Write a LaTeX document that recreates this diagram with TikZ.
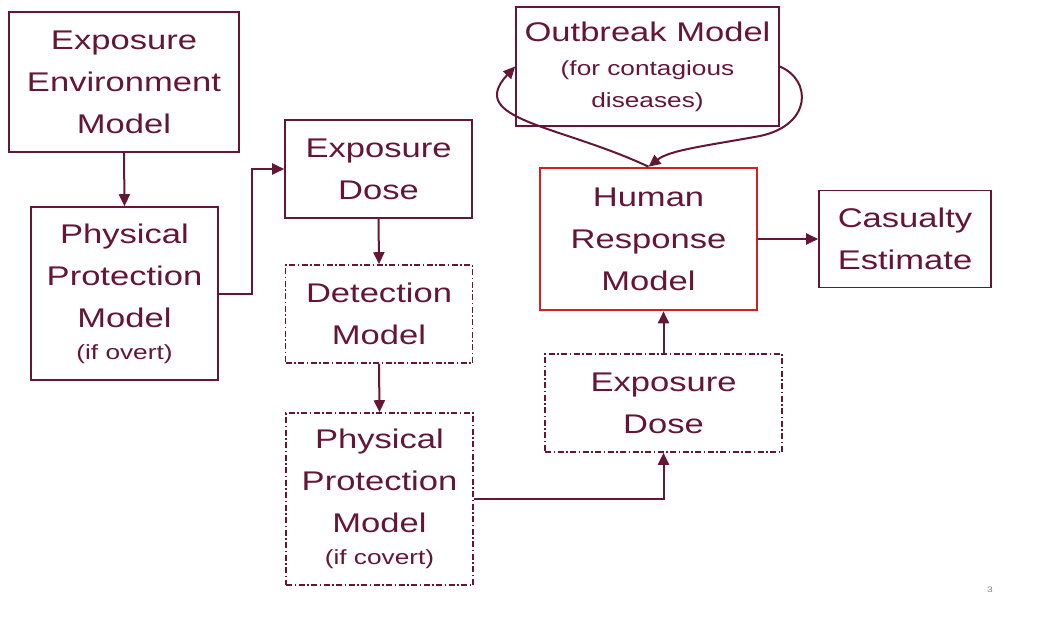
\documentclass[tikz,border=0pt]{standalone}
\usepackage{fontspec}
\setmainfont{Liberation Sans}[FakeStretch=1.28]
\usetikzlibrary{arrows.meta}
\definecolor{maroon}{RGB}{100,22,52}
\definecolor{hred}{RGB}{212,32,32}
\tikzset{
  box/.style={draw=maroon, line width=1.6pt, inner sep=0pt, align=center,
    text=maroon, font=\fontsize{27}{42}\selectfont},
  dbox/.style={box, dash pattern=on 6pt off 2.5pt on 1.5pt off 2.5pt},
  arr/.style={draw=maroon, line width=2pt, -{Triangle[length=12pt,width=11pt]}},
}
\newcommand{\sm}[1]{{\fontsize{20.5}{24}\selectfont #1}}
\begin{document}
\begin{tikzpicture}[x=1pt,y=-1pt]
\useasboundingbox (0,0) rectangle (1048,621);
\node[box, minimum width=230pt, minimum height=140pt] (env) at (124,82) {Exposure\\Environment\\Model};
\node[box, minimum width=187pt, minimum height=173pt] (pp1) at (124.5,293.5) {Physical\\Protection\\Model\\[-10pt]\sm{(if overt)}};
\node[box, minimum width=187pt, minimum height=98pt] (ed1) at (378.5,169) {Exposure\\Dose};
\node[dbox, minimum width=187pt, minimum height=98pt] (det) at (379,314) {Detection\\Model};
\node[dbox, minimum width=187pt, minimum height=172pt] (pp2) at (379.5,499) {Physical\\Protection\\Model\\[-10pt]\sm{(if covert)}};
\node[dbox, minimum width=237pt, minimum height=98pt] (ed2) at (663.5,403) {Exposure\\Dose};
\node[box, draw=hred, line width=2.6pt, minimum width=217pt, minimum height=142pt] (hrm) at (648.5,239) {Human\\Response\\Model};
\node[box, minimum width=172pt, minimum height=97pt] (cas) at (905,239) {Casualty\\Estimate};
\node[box, minimum width=263pt, minimum height=119pt] (out) at (647.5,66.5) {Outbreak Model\\[-8pt]\sm{(for contagious}\\[-10pt]\sm{diseases)}};
\node[text=gray, font=\fontsize{8}{10}\selectfont] (pg) at (990,590) {3};

\draw[arr] (env.south) -- (pp1.north);
\draw[arr] (pp1.east) -- ++(33,0) |- (ed1.west);
\draw[arr] (ed1.south) -- (det.north);
\draw[arr] (det.south) -- (pp2.north);
\draw[arr] (pp2.east) -| (ed2.south);
\draw[arr] (ed2.north) -- (ed2.north |- hrm.south);
\draw[arr] (hrm.east) -- (cas.west);
\draw[arr] (hrm.north) .. controls (560,125) and (465,120) .. (out.west);
\draw[arr] (out.east) .. controls (812,80) and (812,125) .. (760,136) .. controls (705,146) and (670,150) .. (hrm.north);
\end{tikzpicture}
\end{document}
